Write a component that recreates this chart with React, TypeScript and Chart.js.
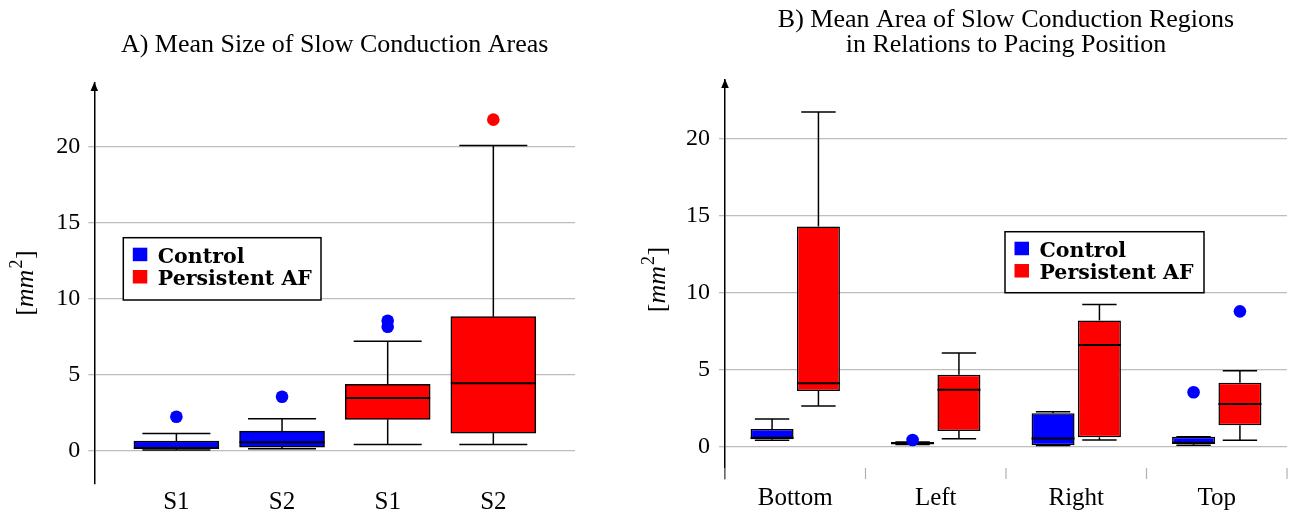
import React, { useEffect, useRef } from 'react';
import { Chart, registerables } from 'chart.js';

Chart.register(...registerables);

// ---------------- data ----------------
const Y_TICKS = [0, 5, 10, 15, 20];
const SERIES_LABELS = ['Control', 'Persistent AF'];

// Panel A
const A_TITLE = 'A) Mean Size of Slow Conduction Areas';
const A_TICK_LABELS = ['S1', 'S2', 'S1', 'S2'];
const A_CONTROL_POS = [1, 2];
const A_AF_POS = [3, 4];
// [lower whisker, Q1, median, Q3, upper whisker]
const A_CONTROL_BOX = [
  [0.07, 0.15, 0.2, 0.66, 1.16],
  [0.15, 0.26, 0.57, 1.31, 2.12],
];
const A_AF_BOX = [
  [0.43, 2.08, 3.48, 4.38, 7.21],
  [0.43, 1.18, 4.45, 8.83, 20.08],
];
const A_CONTROL_OUTLIERS = [[2.25], [3.57]];
const A_AF_OUTLIERS = [[8.17, 8.56], [21.78]];

// Panel B
const B_TITLE = ['B) Mean Area of Slow Conduction Regions', 'in Relations to Pacing Position'];
const B_CATEGORIES = ['Bottom', 'Left', 'Right', 'Top'];
const B_CONTROL_BOX = [
  [0.42, 0.48, 0.59, 1.15, 1.8],
  [0.14, 0.17, 0.22, 0.3, 0.3],
  [0.07, 0.09, 0.54, 2.17, 2.28],
  [0.09, 0.17, 0.26, 0.65, 0.65],
];
const B_AF_BOX = [
  [2.65, 3.62, 4.12, 14.32, 21.76],
  [0.52, 1.02, 3.7, 4.68, 6.09],
  [0.43, 0.61, 6.61, 8.21, 9.25],
  [0.42, 1.39, 2.78, 4.16, 4.94],
];
const B_CONTROL_OUTLIERS = [[], [0.44], [], [3.54]];
const B_AF_OUTLIERS = [[], [], [], [8.8]];

// ---------------- styles ----------------
const BLUE = '#0000ff';
const RED = '#ff0000';
const GRID = '#bdbdbd';
const SERIF = "'Liberation Serif', 'Times New Roman', serif";
const A_CONTROL_OUTLIER_COLORS = [BLUE, BLUE];
const A_AF_OUTLIER_COLORS = [BLUE, RED];
const B_CONTROL_OUTLIER_COLORS = [BLUE, BLUE, BLUE, BLUE];
const B_AF_OUTLIER_COLORS = [BLUE, BLUE, BLUE, BLUE];

function line(ctx, x1, y1, x2, y2) {
  ctx.beginPath();
  ctx.moveTo(x1, y1);
  ctx.lineTo(x2, y2);
  ctx.stroke();
}

const boxExtras = {
  id: 'boxExtras',
  afterDatasetsDraw(chart) {
    const ctx = chart.ctx;
    const ys = chart.scales.y;
    ctx.save();
    chart.data.datasets.forEach((ds, d) => {
      const meta = chart.getDatasetMeta(d);
      ds.stats.forEach((s, i) => {
        const bar = meta.data[i];
        const { x, width } = bar.getProps(['x', 'width'], true);
        const [lo, q1, med, q3, hi] = s;
        const cap = width * 0.8;
        ctx.strokeStyle = '#000';
        ctx.lineWidth = 1.5;
        const pHi = ys.getPixelForValue(hi);
        const pLo = ys.getPixelForValue(lo);
        line(ctx, x, ys.getPixelForValue(q3), x, pHi);
        line(ctx, x - cap / 2, pHi, x + cap / 2, pHi);
        line(ctx, x, ys.getPixelForValue(q1), x, pLo);
        line(ctx, x - cap / 2, pLo, x + cap / 2, pLo);
        ctx.lineWidth = 2;
        const pMed = ys.getPixelForValue(med);
        line(ctx, x - width / 2, pMed, x + width / 2, pMed);
        (ds.outliers[i] || []).forEach((v) => {
          ctx.fillStyle = ds.outlierColors[i];
          ctx.beginPath();
          ctx.arc(x, ys.getPixelForValue(v), 6.3, 0, Math.PI * 2);
          ctx.fill();
        });
      });
    });
    ctx.restore();
  },
  afterDraw(chart, args, opts) {
    const ctx = chart.ctx;
    const ca = chart.chartArea;
    ctx.save();
    // arrow head on the y axis
    ctx.fillStyle = '#000';
    ctx.beginPath();
    ctx.moveTo(ca.left, ca.top - 1);
    ctx.lineTo(ca.left - 3.8, ca.top + 8);
    ctx.lineTo(ca.left + 3.8, ca.top + 8);
    ctx.closePath();
    ctx.fill();

    // category separators
    if (opts.separators) {
      const xs = chart.scales.x;
      const n = chart.data.labels.length;
      const half = (xs.getPixelForValue(1) - xs.getPixelForValue(0)) / 2;
      ctx.strokeStyle = '#b0b0b0';
      ctx.lineWidth = 1.2;
      for (let i = 0; i <= n; i++) {
        const px = xs.getPixelForValue(0) - half + i * half * 2;
        line(ctx, px, ca.bottom - 11, px, ca.bottom);
      }
    }

    // y axis title: [mm^2]
    const cy = (ca.top + ca.bottom) / 2;
    ctx.translate(opts.yTitleX, cy);
    ctx.rotate(-Math.PI / 2);
    ctx.fillStyle = '#000';
    ctx.textBaseline = 'alphabetic';
    const fReg = `26px ${SERIF}`;
    const fIt = `italic 26px ${SERIF}`;
    const fSup = `18px ${SERIF}`;
    const parts = [
      { t: '[', f: fReg, dy: 0 },
      { t: 'mm', f: fIt, dy: 0 },
      { t: '2', f: fSup, dy: -11 },
      { t: ']', f: fReg, dy: 0 },
    ];
    let total = 0;
    parts.forEach((p) => {
      ctx.font = p.f;
      p.w = ctx.measureText(p.t).width + (p.t === '2' ? 1.5 : 0);
      total += p.w;
    });
    let cx = -total / 2;
    parts.forEach((p) => {
      ctx.font = p.f;
      ctx.fillText(p.t, cx + (p.t === '2' ? 1 : 0), p.dy);
      cx += p.w;
    });
    ctx.setTransform(1, 0, 0, 1, 0, 0);

    // legend
    const lg = opts.legend;
    const bx = ca.left + lg.x;
    const by = ca.top + lg.y;
    ctx.fillStyle = '#fff';
    ctx.fillRect(bx, by, lg.w, lg.h);
    ctx.strokeStyle = '#000';
    ctx.lineWidth = 1.5;
    ctx.strokeRect(bx, by, lg.w, lg.h);
    chart.data.datasets.forEach((ds, d) => {
      const sy = by + 10 + d * 22.3;
      ctx.fillStyle = ds.backgroundColor;
      ctx.fillRect(bx + 9.5, sy, 14.5, 13.5);
      ctx.fillStyle = '#000';
      ctx.font = `bold 20.5px 'DejaVu Serif', serif`;
      ctx.textBaseline = 'alphabetic';
      ctx.fillText(ds.label, bx + 34.5, sy + 15.3);
    });
    ctx.restore();
  },
};

function boxDataset(label, color, stats, outliers, outlierColors, positions, extra) {
  return {
    label,
    data: stats.map((s, i) => (positions ? { x: positions[i], y: [s[1], s[3]] } : [s[1], s[3]])),
    backgroundColor: color,
    borderColor: '#000',
    borderWidth: 1.5,
    borderSkipped: false,
    stats,
    outliers,
    outlierColors,
    ...extra,
  };
}

function yScale(min, max, width, padding) {
  return {
    min,
    max,
    afterBuildTicks: (s) => {
      s.ticks = Y_TICKS.map((v) => ({ value: v }));
    },
    ticks: { font: { family: SERIF, size: 24 }, color: '#000', padding },
    grid: { color: GRID, lineWidth: 1.3, tickLength: 6 },
    border: { display: true, color: '#000', width: 1.5 },
    afterFit: (s) => {
      s.width = width;
    },
  };
}

function configA() {
  return {
    type: 'bar',
    data: {
      datasets: [
        boxDataset(SERIES_LABELS[0], BLUE, A_CONTROL_BOX, A_CONTROL_OUTLIERS, A_CONTROL_OUTLIER_COLORS, A_CONTROL_POS, { barThickness: 85, grouped: false }),
        boxDataset(SERIES_LABELS[1], RED, A_AF_BOX, A_AF_OUTLIERS, A_AF_OUTLIER_COLORS, A_AF_POS, { barThickness: 85, grouped: false }),
      ],
    },
    options: {
      animation: false,
      responsive: false,
      events: [],
      layout: { padding: { left: 0, right: 65, top: 0, bottom: 0 } },
      scales: {
        x: {
          type: 'linear',
          offset: false,
          min: 0.223,
          max: 4.773,
          afterBuildTicks: (s) => {
            s.ticks = [...A_CONTROL_POS, ...A_AF_POS].map((v) => ({ value: v }));
          },
          ticks: {
            autoSkip: false,
            maxRotation: 0,
            padding: -4,
            color: '#000',
            font: { family: SERIF, size: 25 },
            callback: (v, i) => A_TICK_LABELS[i],
          },
          grid: { display: false, offset: false },
          border: { display: false },
          afterFit: (s) => {
            s.height = 26.7;
          },
        },
        y: yScale(-2.12, 24.19, 94.3, 8),
      },
      plugins: {
        legend: { display: false },
        tooltip: { enabled: false },
        title: {
          display: true,
          text: A_TITLE,
          fullSize: false,
          color: '#000',
          font: { family: SERIF, size: 26, weight: 'normal', lineHeight: 1.2 },
          padding: { top: 30, bottom: 21.8 },
        },
        boxExtras: {
          yTitleX: 33,
          legend: { x: 29, y: 154.7, w: 197.7, h: 62.3 },
        },
      },
    },
    plugins: [boxExtras],
  };
}

function configB() {
  const extra = { categoryPercentage: 0.66, barPercentage: 0.927 };
  return {
    type: 'bar',
    data: {
      labels: B_CATEGORIES,
      datasets: [
        boxDataset(SERIES_LABELS[0], BLUE, B_CONTROL_BOX, B_CONTROL_OUTLIERS, B_CONTROL_OUTLIER_COLORS, null, extra),
        boxDataset(SERIES_LABELS[1], RED, B_AF_BOX, B_AF_OUTLIERS, B_AF_OUTLIER_COLORS, null, extra),
      ],
    },
    options: {
      animation: false,
      responsive: false,
      events: [],
      layout: { padding: { left: 0, right: 4, top: 0, bottom: 0 } },
      scales: {
        x: {
          ticks: {
            autoSkip: false,
            maxRotation: 0,
            padding: -4,
            color: '#000',
            font: { family: SERIF, size: 25 },
          },
          grid: { display: false },
          border: { display: false },
          afterFit: (s) => {
            s.height = 31;
          },
        },
        y: yScale(-2.1, 23.84, 93, 9),
      },
      plugins: {
        legend: { display: false },
        tooltip: { enabled: false },
        title: {
          display: true,
          text: B_TITLE,
          fullSize: false,
          color: '#000',
          font: { family: SERIF, size: 26, weight: 'normal', lineHeight: 0.962 },
          padding: { top: 7.5, bottom: 22.5 },
        },
        boxExtras: {
          yTitleX: 33,
          separators: true,
          legend: { x: 280, y: 151.7, w: 199, h: 61 },
        },
      },
    },
    plugins: [boxExtras],
  };
}

export default function App() {
  const refA = useRef(null);
  const refB = useRef(null);

  useEffect(() => {
    const a = new Chart(refA.current, configA() as any);
    const b = new Chart(refB.current, configB() as any);
    return () => {
      a.destroy();
      b.destroy();
    };
  }, []);

  return (
    <div style={{ position: 'fixed', left: 0, top: 0, width: 1291, height: 510, background: '#fff' }}>
      <canvas
        ref={refA}
        width={640}
        height={510}
        style={{ position: 'absolute', left: 0, top: 0, width: 640, height: 510, display: 'block' }}
      />
      <canvas
        ref={refB}
        width={659}
        height={510}
        style={{ position: 'absolute', left: 632, top: 0, width: 659, height: 510, display: 'block' }}
      />
    </div>
  );
}
